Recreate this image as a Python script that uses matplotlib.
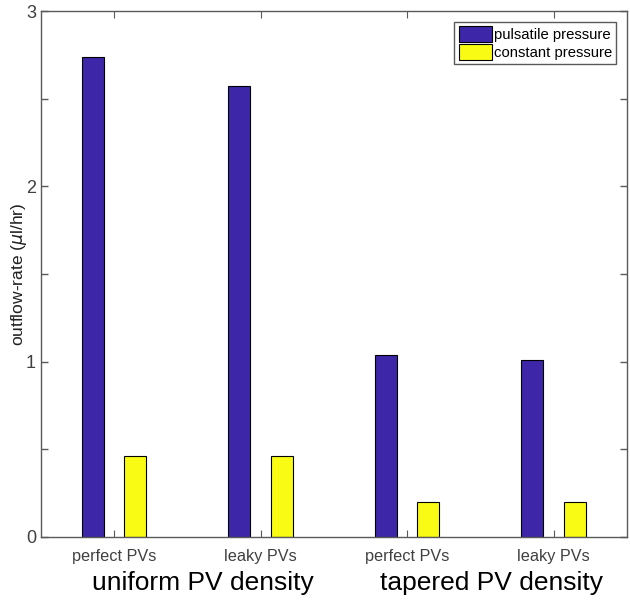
import numpy as np
import matplotlib.pyplot as plt

plt.rcParams['font.family'] = ['Liberation Sans', 'DejaVu Sans']

categories = ['perfect PVs', 'leaky PVs', 'perfect PVs', 'leaky PVs']
pulsatile = [2.74, 2.57, 1.04, 1.01]
constant = [0.46, 0.46, 0.20, 0.20]
groups = ['uniform PV density', 'tapered PV density']

ind = np.arange(1, len(categories) + 1)
width = 0.15
offset = 0.145
axcol = '#5a5a5a'

fig = plt.figure(figsize=(6.3, 6.01), dpi=100)
ax = fig.add_axes([0.065, 0.1065, 0.93, 0.875])

p1 = ax.bar(ind - offset, pulsatile, width, color='#3E26A8', edgecolor='black', linewidth=0.8)
p2 = ax.bar(ind + offset, constant, width, color='#F9FB15', edgecolor='black', linewidth=0.8)

ax.set_xlim(0.5, 4.5)
ax.set_ylim(0, 3)
ax.set_xticks(ind)
ax.set_xticklabels(categories, fontsize=11.7)
ax.set_yticks([0, 1, 2, 3])
ax.set_yticks([0.5, 1.5, 2.5], minor=True)
ax.tick_params(axis='y', which='both', labelsize=13, colors=axcol, length=5,
               direction='in', right=True, width=1.0)
ax.tick_params(axis='x', length=5, direction='in', top=True, pad=9, colors=axcol)
for lab in ax.get_xticklabels() + ax.get_yticklabels():
    lab.set_color('#404040')
for sp in ax.spines.values():
    sp.set_color(axcol)
    sp.set_linewidth(1.0)

ax.set_ylabel(r'outflow-rate ($\mu$l/hr)', fontsize=12.5, color='#202020', labelpad=-2)

ax.legend((p1[0], p2[0]), ('pulsatile pressure', 'constant pressure'),
          loc='upper right', fontsize=10.7, fancybox=False, edgecolor=axcol,
          borderpad=0.3, handlelength=2.2, handleheight=1.25, handletextpad=0.15,
          labelspacing=0.15, borderaxespad=0.7, framealpha=1)

ax.text(0.848, -0.088, groups[0], transform=ax.get_xaxis_transform(),
        fontsize=19, ha='left', va='center')
ax.text(2.814, -0.088, groups[1], transform=ax.get_xaxis_transform(),
        fontsize=19, ha='left', va='center')

fig.savefig('out.png', dpi=100)
